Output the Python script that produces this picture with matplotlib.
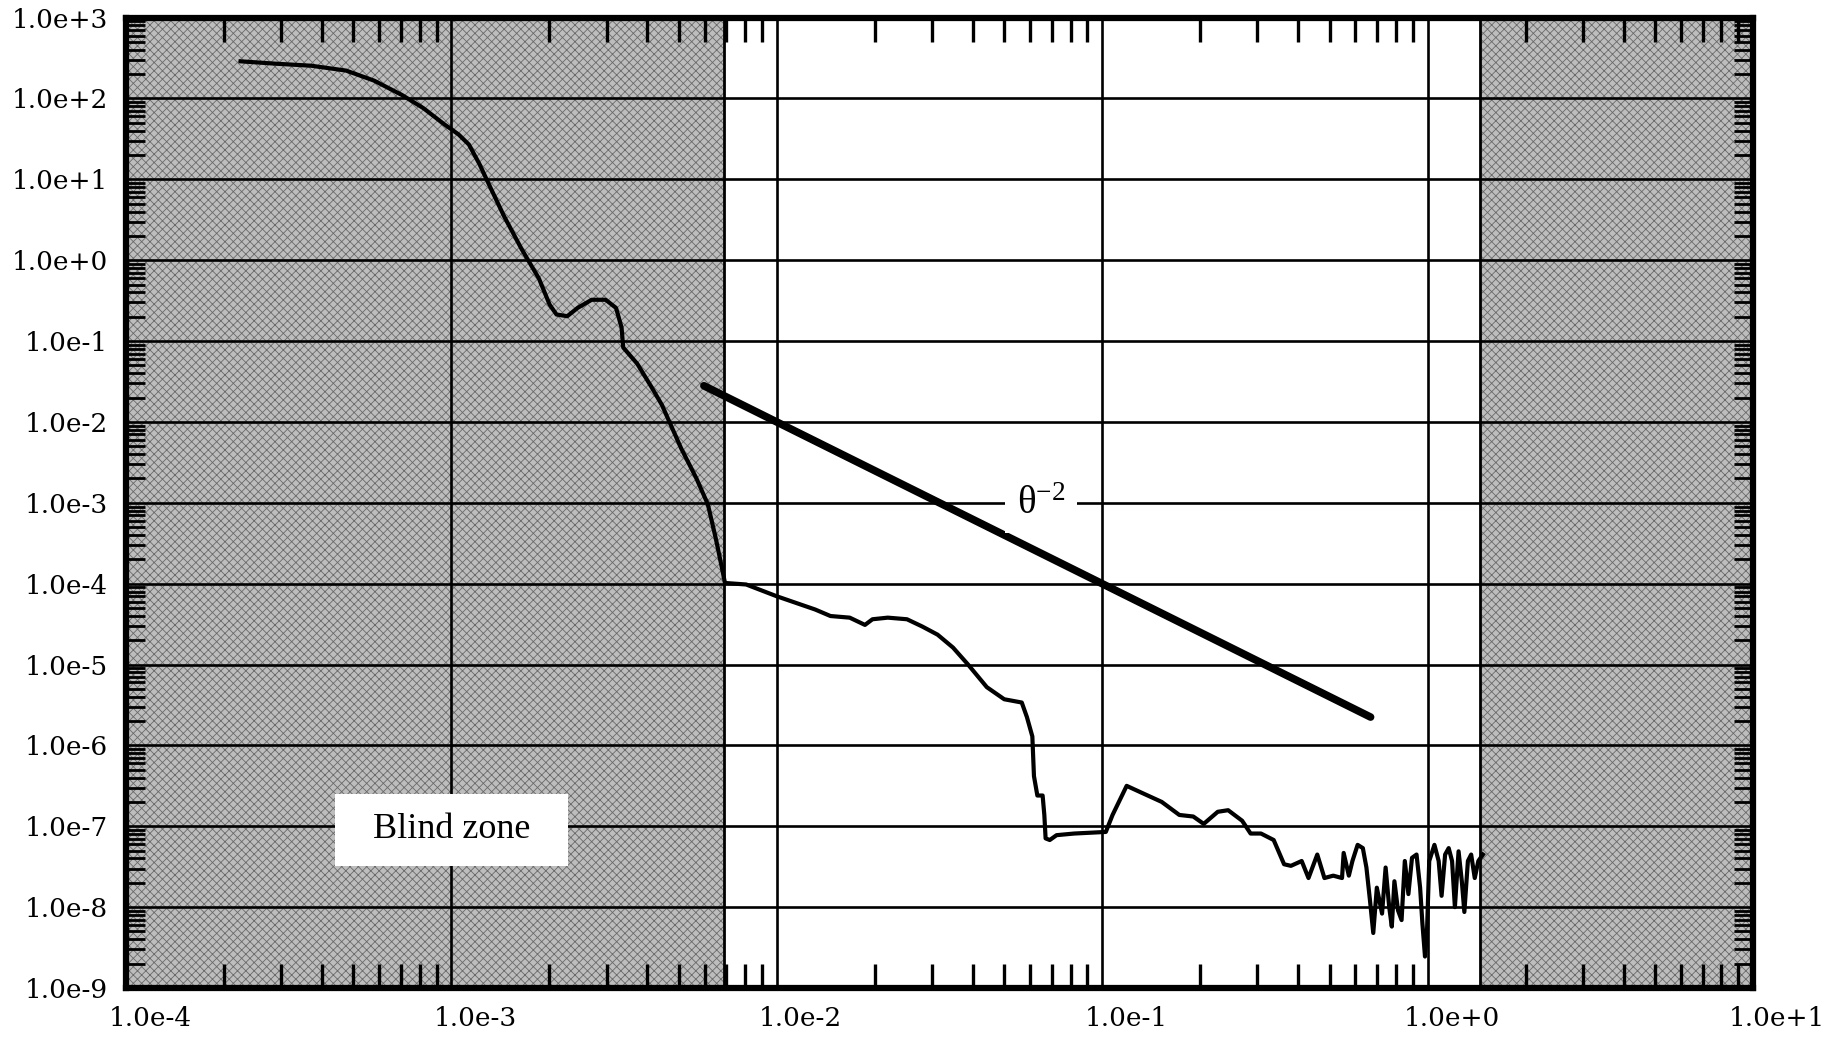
import matplotlib
matplotlib.use("Agg")
import matplotlib.pyplot as plt
import matplotlib.transforms as mtransforms
from matplotlib.ticker import LogLocator, FixedLocator, FixedFormatter, NullFormatter

plt.rcParams['mathtext.fontset'] = 'custom'
plt.rcParams['mathtext.rm'] = 'Liberation Serif'
plt.rcParams['mathtext.it'] = 'Liberation Serif:italic'
plt.rcParams['hatch.linewidth'] = 0.6

# ---------------- data ----------------
curve_x = [2.25e-4, 2.89e-4, 3.71e-4, 4.75e-4, 5.79e-4, 7.06e-4, 8.20e-4, 9.51e-4,
           1.052e-3, 1.132e-3, 1.219e-3, 1.315e-3, 1.452e-3, 1.644e-3, 1.858e-3,
           2.004e-3, 2.104e-3, 2.270e-3, 2.443e-3, 2.698e-3, 2.979e-3, 3.206e-3,
           3.334e-3, 3.373e-3, 3.724e-3, 4.111e-3, 4.436e-3, 5.08e-3, 5.66e-3,
           6.14e-3, 6.49e-3, 6.75e-3, 6.93e-3, 8.05e-3, 1.0e-2, 1.312e-2, 1.462e-2,
           1.675e-2, 1.866e-2, 1.968e-2, 2.193e-2, 2.512e-2, 2.80e-2, 3.12e-2,
           3.48e-2, 3.87e-2, 4.42e-2, 5.00e-2, 5.66e-2, 5.87e-2, 6.10e-2, 6.17e-2,
           6.32e-2, 6.56e-2, 6.64e-2, 6.70e-2, 6.90e-2, 7.24e-2, 8.20e-2, 0.1026,
           0.1076, 0.1189, 0.125, 0.138, 0.1524, 0.1726, 0.1905, 0.2051, 0.2265,
           0.2438, 0.2692, 0.2858, 0.3076, 0.3365, 0.3622, 0.3802, 0.4102, 0.4305,
           0.4581, 0.4819, 0.5129, 0.5458, 0.5521, 0.5728, 0.5875, 0.6095, 0.6324,
           0.6486, 0.6653, 0.6808, 0.6982, 0.7244, 0.7430, 0.7621, 0.7762, 0.7907,
           0.8110, 0.8318, 0.8511, 0.8730, 0.8954, 0.9247, 0.9484, 0.9638, 0.9817,
           0.9954, 1.0116, 1.0495, 1.0814, 1.104, 1.132, 1.161, 1.189, 1.213,
           1.245, 1.274, 1.297, 1.330, 1.361, 1.396, 1.432, 1.479]
curve_y = [288, 269, 254, 221, 166, 110, 75.9, 47.9,
           35.9, 26.9, 15.5, 8.07, 3.49, 1.37, 0.593,
           0.282, 0.213, 0.203, 0.257, 0.324, 0.324, 0.257,
           0.147, 0.0832, 0.0525, 0.0274, 0.0162, 4.73e-3, 2.01e-3,
           9.55e-4, 3.66e-4, 1.72e-4, 1.02e-4, 9.77e-5, 6.98e-5, 4.79e-5, 3.98e-5,
           3.80e-5, 3.09e-5, 3.63e-5, 3.80e-5, 3.63e-5, 2.95e-5, 2.34e-5,
           1.62e-5, 1.0e-5, 5.25e-6, 3.72e-6, 3.39e-6, 2.24e-6, 1.29e-6, 4.17e-7,
           2.40e-7, 2.40e-7, 1.38e-7, 7.08e-8, 6.76e-8, 7.76e-8, 8.13e-8, 8.51e-8,
           1.38e-7, 3.16e-7, 2.88e-7, 2.40e-7, 2.0e-7, 1.38e-7, 1.32e-7, 1.07e-7, 1.51e-7,
           1.58e-7, 1.17e-7, 8.13e-8, 8.13e-8, 6.76e-8, 3.39e-8, 3.24e-8, 3.72e-8, 2.29e-8,
           4.47e-8, 2.29e-8, 2.45e-8, 2.29e-8, 4.68e-8, 2.45e-8, 3.72e-8, 5.89e-8, 5.37e-8,
           3.09e-8, 1.20e-8, 4.79e-9, 1.74e-8, 8.32e-9, 3.09e-8, 1.0e-8, 5.75e-9, 2.09e-8,
           9.12e-9, 6.92e-9, 3.72e-8, 1.45e-8, 4.07e-8, 4.47e-8, 1.74e-8, 6.31e-9, 2.45e-9,
           4.79e-9, 3.72e-8, 5.89e-8, 3.72e-8, 1.38e-8, 4.47e-8, 5.37e-8, 3.72e-8, 1.0e-8,
           4.90e-8, 2.09e-8, 8.71e-9, 3.72e-8, 4.47e-8, 2.29e-8, 3.72e-8, 4.47e-8]

theta_x = [5.97e-3, 0.668]
theta_y = [2.8e-2, 2.24e-6]

blind_left = [1e-4, 6.9e-3]
blind_right = [1.45, 1e1]

x_ticks = [1e-4, 1e-3, 1e-2, 1e-1, 1e0, 1e1]
x_labels = ["1.0e-4", "1.0e-3", "1.0e-2", "1.0e-1", "1.0e+0", "1.0e+1"]
y_ticks = [1e-9, 1e-8, 1e-7, 1e-6, 1e-5, 1e-4, 1e-3, 1e-2, 1e-1, 1e0, 1e1, 1e2, 1e3]
y_labels = ["1.0e-9", "1.0e-8", "1.0e-7", "1.0e-6", "1.0e-5", "1.0e-4", "1.0e-3",
            "1.0e-2", "1.0e-1", "1.0e+0", "1.0e+1", "1.0e+2", "1.0e+3"]

# ---------------- figure ----------------
W, H = 1845, 1039
fig = plt.figure(figsize=(W / 100, H / 100), dpi=100)
ax = fig.add_axes([126 / W, 1 - 988 / H, (1753 - 126) / W, (988 - 17.6) / H])
ax.set_xscale('log')
ax.set_yscale('log')
ax.set_xlim(x_ticks[0], x_ticks[-1])
ax.set_ylim(y_ticks[0], y_ticks[-1])

for zone in (blind_left, blind_right):
    ax.axvspan(zone[0], zone[1], facecolor='#bdbdbd', edgecolor='#6a6a6a',
               hatch='xxxx', linewidth=0, zorder=0)
ax.axvline(blind_left[1], color='black', lw=2.0, zorder=1)
ax.axvline(blind_right[0], color='black', lw=2.0, zorder=1)

ax.xaxis.set_major_locator(FixedLocator(x_ticks))
ax.xaxis.set_major_formatter(FixedFormatter(x_labels))
ax.yaxis.set_major_locator(FixedLocator(y_ticks))
ax.yaxis.set_major_formatter(FixedFormatter(y_labels))
ax.xaxis.set_minor_locator(LogLocator(base=10, subs=range(2, 10), numticks=30))
ax.yaxis.set_minor_locator(LogLocator(base=10, subs=range(2, 10), numticks=30))
ax.xaxis.set_minor_formatter(NullFormatter())
ax.yaxis.set_minor_formatter(NullFormatter())

ax.grid(which='major', color='black', lw=1.9, zorder=1)
ax.set_axisbelow(False)

ax.tick_params(which='major', length=0, labelsize=19, pad=13)
ax.tick_params(axis='x', which='minor', direction='in', length=17, width=2.4,
               top=True, bottom=True, color='black')
ax.tick_params(axis='y', which='minor', direction='in', length=14, width=2.0,
               left=True, right=True, color='black')
for lab in ax.get_xticklabels() + ax.get_yticklabels():
    lab.set_fontfamily('DejaVu Serif')
offset = mtransforms.ScaledTranslation(0.24, 0, fig.dpi_scale_trans)
for lab in ax.get_xticklabels():
    lab.set_transform(lab.get_transform() + offset)

for sp in ax.spines.values():
    sp.set_linewidth(4.5)
    sp.set_color('black')
    sp.set_zorder(5)

ax.plot(curve_x, curve_y, color='black', lw=3.0, zorder=3, solid_joinstyle='round')
ax.plot(theta_x, theta_y, color='black', lw=5.5, zorder=3, solid_capstyle='round')

ax.text(0.065, 1e-3, r'$\mathrm{θ}^{-2}$', fontsize=28, ha='center', va='center',
        zorder=4, bbox=dict(boxstyle='square,pad=0.3', facecolor='white', edgecolor='none'))
ax.text(1e-3, 9e-8, '  Blind zone  ', family='Liberation Serif', fontsize=26,
        ha='center', va='center', zorder=4,
        bbox=dict(boxstyle='square,pad=0.55', facecolor='white', edgecolor='none'))

fig.savefig('out.png', dpi=100, facecolor='white')
